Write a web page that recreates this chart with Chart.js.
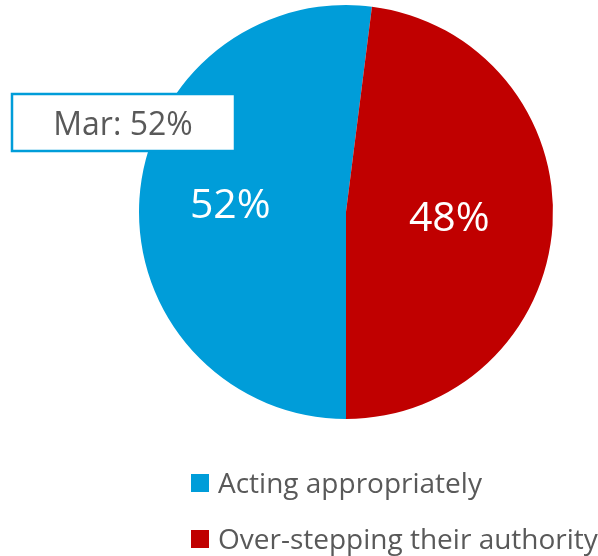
<!DOCTYPE html>
<html>
<head>
<meta charset="utf-8">
<script src="https://cdn.jsdelivr.net/npm/chart.js@4.4.0/dist/chart.umd.min.js"></script>
<style>
  html, body { margin: 0; padding: 0; background: #ffffff; }
  #wrap { width: 598px; height: 556px; }
</style>
</head>
<body>
<div id="wrap"><canvas id="pie-chart"></canvas></div>
<script>
// Chart data
const categories = ['Acting appropriately', 'Over-stepping their authority'];
const values = [52, 48];
const sliceColors = ['#009dd9', '#c00000'];
const calloutText = 'Mar: 52%';

const FONT = '"Open Sans", sans-serif';
const GREY = '#595959';

// Percent labels inside the slices
const sliceLabels = {
    id: 'sliceLabels',
    afterDatasetsDraw(chart) {
        const ctx = chart.ctx;
        const meta = chart.getDatasetMeta(0);
        const total = values.reduce((a, b) => a + b, 0);
        const frac = [0.56, 0.5]; // distance from centre as a share of the radius
        ctx.save();
        ctx.fillStyle = '#ffffff';
        ctx.font = '41px ' + FONT;
        ctx.textAlign = 'center';
        ctx.textBaseline = 'alphabetic';
        meta.data.forEach((arc, i) => {
            const p = arc.getProps(['x', 'y', 'startAngle', 'endAngle', 'outerRadius'], true);
            const mid = (p.startAngle + p.endAngle) / 2;
            const r = p.outerRadius * frac[i];
            const pct = Math.round(values[i] / total * 100) + '%';
            ctx.fillText(pct, p.x + Math.cos(mid) * r, p.y + Math.sin(mid) * r + 13);
        });
        ctx.restore();
    }
};

// "Mar: 52%" callout box
const callout = {
    id: 'callout',
    afterDraw(chart) {
        const ctx = chart.ctx;
        ctx.save();
        ctx.fillStyle = '#ffffff';
        ctx.fillRect(12, 94, 223, 57);
        ctx.strokeStyle = '#009dd9';
        ctx.lineWidth = 2.5;
        ctx.strokeRect(12, 94, 223, 57);
        ctx.fillStyle = GREY;
        ctx.font = '32px ' + FONT;
        ctx.textAlign = 'center';
        ctx.textBaseline = 'alphabetic';
        ctx.fillText(calloutText, 123, 135);
        ctx.restore();
    }
};

// Vertical legend under the pie
const sideLegend = {
    id: 'sideLegend',
    afterDraw(chart) {
        const ctx = chart.ctx;
        ctx.save();
        ctx.font = '28px ' + FONT;
        ctx.textBaseline = 'alphabetic';
        categories.forEach((label, i) => {
            const y = 483 + i * 56;
            ctx.fillStyle = sliceColors[i];
            ctx.fillRect(191, y - 9, 18, 18);
            ctx.fillStyle = GREY;
            ctx.fillText(label, 218, y + 10);
        });
        ctx.restore();
    }
};

new Chart(document.getElementById('pie-chart'), {
    type: 'pie',
    data: {
        labels: categories,
        datasets: [{
            data: values,
            backgroundColor: sliceColors,
            borderWidth: 0
        }]
    },
    options: {
        responsive: true,
        maintainAspectRatio: false,
        animation: false,
        rotation: 180,
        layout: {
            padding: { top: 5, bottom: 137, left: 139, right: 45 }
        },
        plugins: {
            legend: { display: false },
            tooltip: { enabled: false }
        }
    },
    plugins: [sliceLabels, callout, sideLegend]
});
</script>
</body>
</html>
